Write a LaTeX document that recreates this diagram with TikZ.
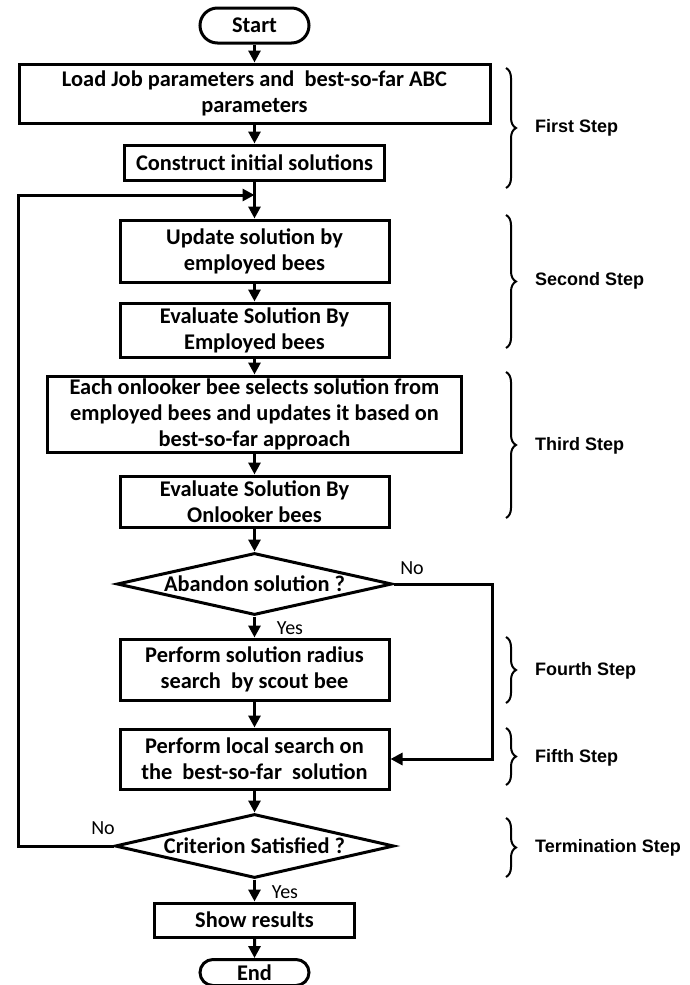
\documentclass[tikz,border=0pt]{standalone}
\usepackage{fontspec}
\setmainfont{Carlito}
\newfontfamily\stepfont{Liberation Sans}
\usetikzlibrary{shapes.geometric,shapes.misc,arrows.meta,decorations.pathreplacing}
\begin{document}
\begin{tikzpicture}[x=1pt,y=-1pt,
  box/.style={draw, line width=3pt, rectangle, inner sep=0pt, align=center,
    font=\fontsize{22.4}{26}\selectfont\bfseries},
  term/.style={box, rounded rectangle, minimum width=109pt, minimum height=35pt},
  dec/.style={draw, line width=3pt, diamond, aspect=4.4, inner sep=0pt,
    font=\fontsize{22.4}{26}\selectfont\bfseries},
  arr/.style={line width=3pt, -{Triangle[length=12pt,width=12pt]}},
  brc/.style={line width=2pt, decorate, decoration={brace, amplitude=10pt}},
  steplbl/.style={anchor=west, inner sep=0pt, font=\stepfont\fontsize{18}{20}\selectfont\bfseries},
  yn/.style={inner sep=0pt, font=\fontsize{20}{22}\selectfont}
]
\path[use as bounding box, fill=white] (0,0) rectangle (689,985);
\clip (0,0) rectangle (689,985);

% main column
\node[term] (start) at (254.5,25.5) {Start};
\node[box, minimum width=471pt, minimum height=59pt] (load) at (254.5,93.5)
  {Load Job parameters and\ \ best-so-far ABC\\parameters};
\node[box, minimum width=260pt, minimum height=35pt] (construct) at (254.5,162.5)
  {Construct initial solutions};
\node[box, minimum width=269pt, minimum height=62pt] (update) at (254.5,251)
  {Update solution by\\employed bees};
\node[box, minimum width=269pt, minimum height=54pt] (evalE) at (254.5,330)
  {Evaluate Solution By\\Employed bees};
\node[box, minimum width=414pt, minimum height=76pt] (onlook) at (254.5,414)
  {Each onlooker bee selects solution from\\employed bees and updates it based on\\best-so-far approach};
\node[box, minimum width=269pt, minimum height=51pt] (evalO) at (254.5,501.5)
  {Evaluate Solution By\\Onlooker bees};
\node[dec, minimum width=275pt, minimum height=62pt] (aband) at (254.5,584)
  {Abandon solution ?};
\node[box, minimum width=269pt, minimum height=61pt] (radius) at (254.5,669.5)
  {Perform solution radius\\search\ \ by scout bee};
\node[box, minimum width=269pt, minimum height=60pt] (local) at (254.5,759)
  {Perform local search on\\the\ \ best-so-far\ \ solution};
\node[dec, minimum width=279pt, minimum height=64pt] (crit) at (254.5,846)
  {Criterion Satisfied ?};
\node[box, minimum width=200pt, minimum height=34pt] (show) at (254.5,920)
  {Show results};
\node[term, minimum height=26pt] (end) at (254.5,972.5) {End};

% connectors
\coordinate (join) at (254.5,195);
\coordinate (loopL) at (18,846);
\coordinate (noR) at (492,584);
\draw[arr] (start) -- (load);
\draw[arr] (load) -- (construct);
\draw[line width=3pt] (construct) -- (join);
\draw[arr] (join) -- (update);
\draw[arr] (update) -- (evalE);
\draw[arr] (evalE) -- (onlook);
\draw[arr] (onlook) -- (evalO);
\draw[arr] (evalO) -- (aband);
\draw[arr] (aband) -- (radius);
\draw[arr] (radius) -- (local);
\draw[arr] (local) -- (crit);
\draw[arr] (crit) -- (show);
\draw[arr] (show) -- (end);
\draw[arr] (aband.east) -- (noR) |- (local.east);
\draw[arr] (crit.west) -- (loopL) |- (join);

% yes / no labels
\node[yn] (no1) at (412,568) {No};
\node[yn] (yes1) at (290,628) {Yes};
\node[yn] (no2) at (103,828) {No};
\node[yn] (yes2) at (285,892) {Yes};

% braces and step labels
\draw[brc] (506,68) -- (506,188);
\node[steplbl] (s1) at (535,128) {First Step};
\draw[brc] (506,215) -- (506,348);
\node[steplbl] (s2) at (535,281) {Second Step};
\draw[brc] (506,372) -- (506,518);
\node[steplbl] (s3) at (535,446) {Third Step};
\draw[brc] (506,637) -- (506,703);
\node[steplbl] (s4) at (535,671) {Fourth Step};
\draw[brc] (506,728) -- (506,785);
\node[steplbl] (s5) at (535,758) {Fifth Step};
\draw[brc] (506,818) -- (506,877);
\node[steplbl] (s6) at (535,848) {Termination Step};
\end{tikzpicture}
\end{document}
